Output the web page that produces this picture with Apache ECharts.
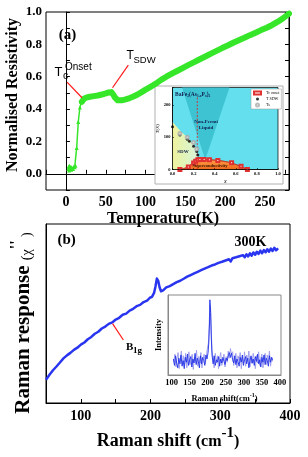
<!DOCTYPE html>
<html><head><meta charset="utf-8">
<script src="https://cdn.jsdelivr.net/npm/echarts/dist/echarts.min.js"></script>
<style>html,body{margin:0;padding:0;background:#fff}#c{width:308px;height:457px}</style>
</head><body><div id="c"></div>
<script>
// ---------- data: panel (a) resistivity ----------
const resLow = [[3,0.03],[3.5,0.045],[4,0.02],[4.5,0.05],[5,0.03],[6,0.042],[6.5,0.025],[7,0.04],[8,0.035],[9,0.03],[10,0.045],[11,0.04],[12,0.05],[13.5,0.16],[15.5,0.32],[17.5,0.41],[19.5,0.445],[21,0.46],[23,0.468]];
const resHigh = [[20,0.445],[23,0.466],[26,0.472],[30,0.476],[35,0.48],[40,0.484],[45,0.49],[50,0.497],[53,0.502],[55,0.505],[57,0.505],[58.5,0.498],[60,0.485],[61.5,0.472],[63,0.461],[65,0.454],[67.5,0.452],[70,0.454],[75,0.46],[80,0.468],[84,0.476],[90,0.49],[95,0.505],[100,0.52],[105,0.534],[110,0.549],[115,0.565],[120,0.582],[126,0.6],[133,0.619],[140,0.637],[147,0.655],[154,0.673],[161,0.69],[168,0.708],[175,0.725],[182,0.743],[189,0.76],[196,0.777],[203,0.793],[210,0.81],[217,0.826],[224,0.841],[231,0.857],[238,0.872],[245,0.888],[252,0.903],[259,0.92],[266,0.94],[273,0.963],[280,0.99]];
const tempLabels = [0,50,100,150,200,250];
const resLabels = [0,0.2,0.4,0.6,0.8,1.0];
const arrowSDW = [[78.3,0.672],[58.5,0.532]];
const arrowTc = [[1.4,0.567],[20.2,0.47]];

// ---------- data: panel (a) inset phase diagram ----------
const phaseXLabels = [0,0.2,0.4,0.6,0.8,1.0];
const phaseYLabels = [0,100,200];
const vRegion = [[0.09,255],[0.54,255],[0.31,30]];
const sdwRegion = [[0,0],[0,148],[0.08,118],[0.15,97],[0.2,80],[0.23,60],[0.245,35],[0.24,0]];
const domeRegion = [[0.08,0],[0.12,4],[0.16,12],[0.2,22],[0.23,28],[0.27,31],[0.33,31],[0.4,29.5],[0.47,27],[0.53,23],[0.58,18],[0.63,12],[0.67,6],[0.71,0]];
const tcOnset = [[0.07,0],[0.15,8],[0.2,20],[0.22,26],[0.24,30],[0.26,31],[0.3,31],[0.35,30],[0.43,28],[0.56,21],[0.65,10],[0.71,0]];
const tSDW = [[0,133],[0.07,107],[0.14,94],[0.16,88],[0.2,72],[0.23,56],[0.24,45]];
const tS = [[0.07,112],[0.14,100],[0.2,84],[0.23,64]];
const dashLine = [[0.235,0],[0.235,228]];

// ---------- data: panel (b) Raman ----------
const ramanMain = [[50,13.0],[55,15.8],[60,18.3],[65,20.4],[70,22.6],[75,24.9],[80,26.6],[85,28.0],[90,29.7],[95,30.9],[100,32.6],[105,33.8],[110,35.6],[115,36.9],[120,38.7],[125,39.8],[130,41.6],[135,42.7],[140,44.2],[145,45.0],[150,46.6],[155,47.6],[160,49.3],[165,49.9],[170,51.6],[175,52.6],[180,54.1],[185,54.8],[190,56.4],[195,57.2],[199,58.8],[202,59.3],[205,61.5],[207,65.0],[209,69.5],[211,68.2],[213,64.5],[215,62.4],[218,62.9],[220,63.2],[222.5,64.6],[225,63.8],[227.5,65.3],[230,64.9],[232.5,66.4],[235,65.6],[237.5,67.5],[240,66.8],[242.5,68.3],[245,67.6],[247.5,69.4],[250,68.9],[252.5,70.6],[255,69.8],[257.5,71.5],[260,70.7],[262.5,72.4],[265,71.6],[267.5,73.3],[270,72.6],[272.5,74.2],[275,73.4],[277.5,75.1],[280,74.2],[282.5,75.9],[285,74.9],[287.5,76.8],[290,75.8],[292.5,77.4],[295,76.5],[297.5,78.3],[300,77.2],[302.5,78.9],[305,77.8],[307.5,79.6],[310,78.5],[312.5,80.3],[315,79.1],[317.5,80.9],[320,79.8],[322.5,81.4],[325,80.3],[327.5,82.0],[330,80.9],[332.5,82.6],[335,81.4],[337.5,83.1],[340,81.9],[342.5,83.6],[345,82.3],[347.5,84.1],[350,82.8],[352.5,84.5],[355,83.3],[357.5,85.1],[360,83.7],[362.5,85.4],[365,84.2],[367.5,85.9],[370,84.5],[372.5,86.3],[375,84.9],[377.5,86.7],[380,85.3],[383,86.4]];
const ramanLabels = [100,200,300,400];
const arrowB1g = [[161,35.2],[145.5,44.3]];
const insetLabels = [100,150,200,250,300,350,400];
const insetDark = [[105,20],[108,12],[111,24],[114,15],[117,9],[120,21],[123,14],[126,25],[129,11],[132,18],[135,8],[138,22],[141,16],[144,26],[147,12],[150,19],[153,23],[156,10],[159,20],[162,15],[165,27],[168,13],[171,21],[174,17],[177,9],[180,24],[183,14],[186,22],[189,18],[192,12],[195,25],[198,20],[201,28],[203,40],[205,65],[206,94],[208,78],[210,45],[212,25],[215,14],[218,24],[221,12],[224,19],[227,16],[230,23],[233,11],[236,20],[239,15],[242,22],[245,17],[248,13],[251,21],[254,18],[257,24],[260,28],[263,22],[266,27],[269,19],[272,15],[275,24],[278,13],[281,20],[284,17],[287,11],[290,22],[293,16],[296,25],[299,12],[302,19],[305,23],[308,14],[311,21],[314,9],[317,18],[320,24],[323,15],[326,20],[329,12],[332,23],[335,17],[338,26],[341,14],[344,19],[347,10],[350,22],[353,16],[356,25],[359,13],[362,21],[365,18],[368,11],[371,24],[374,16],[377,22],[380,19]];
const insetLight = [[106,16],[109,26],[112,10],[115,21],[118,28],[121,8],[124,19],[127,30],[130,14],[133,24],[136,12],[139,27],[142,9],[145,20],[148,29],[151,13],[154,18],[157,26],[160,7],[163,22],[166,16],[169,31],[172,11],[175,23],[178,15],[181,28],[184,9],[187,20],[190,26],[193,14],[196,22],[199,33],[202,40],[204,62],[206,88],[208,84],[210,55],[212,30],[215,20],[218,9],[221,27],[224,15],[227,24],[230,8],[233,21],[236,28],[239,12],[242,19],[245,26],[248,10],[251,23],[254,16],[257,30],[260,21],[263,33],[266,25],[269,29],[272,12],[275,20],[278,27],[281,9],[284,24],[287,18],[290,28],[293,8],[296,21],[299,15],[302,29],[305,11],[308,25],[311,18],[314,30],[317,10],[320,22],[323,14],[326,27],[329,19],[332,8],[335,24],[338,15],[341,29],[344,12],[347,21],[350,26],[353,9],[356,20],[359,27],[362,13],[365,25],[368,16],[371,30],[374,11],[377,22],[380,17]];

// ---------- styling ----------
const SERIF = '"Liberation Serif","Times New Roman",serif';
const SANS = '"Liberation Sans",Arial,sans-serif';
const near = (arr, v) => arr.some(a => Math.abs(a - v) < 1e-6);

function poly(pts, fill, stroke, z) {
  return {
    type: 'custom', xAxisIndex: 1, yAxisIndex: 2, z: z, silent: true,
    data: pts, encode: {x: 0, y: 1},
    renderItem: function (params, api) {
      if (params.dataIndex !== 0) return null;
      const points = pts.map(p => api.coord(p));
      return {type: 'polygon', shape: {points: points},
        style: {fill: fill, stroke: stroke || null, lineWidth: 0.7}};
    }
  };
}

const chart = echarts.init(document.getElementById('c'));
const axisBlack = {lineStyle: {color: '#000', width: 1}};
const option = {
  animation: false,
  backgroundColor: '#fff',
  grid: [
    {left: 46, top: 12, width: 243, height: 178, show: true, borderColor: '#000', borderWidth: 1},
    {left: 172.5, top: 87.5, width: 105.5, height: 82, show: true, backgroundColor: '#63dfee', borderColor: '#000', borderWidth: 0.7, z: 3},
    {left: 46, top: 224, width: 244, height: 179, show: true, borderColor: '#000', borderWidth: 1},
    {left: 168, top: 295, width: 113, height: 80, show: true, borderColor: '#888', borderWidth: 1}
  ],
  xAxis: [
    {gridIndex: 0, type: 'value', min: -25, max: 280, interval: 25, axisLine: axisBlack,
      axisTick: {inside: true, length: 4, lineStyle: {color: '#000'}}, splitLine: {show: false},
      axisLabel: {margin: 5, fontSize: 14, fontWeight: 'bold', fontFamily: SERIF, color: '#000',
        formatter: v => near(tempLabels, v) ? String(v) : ''}},
    {gridIndex: 1, type: 'value', min: 0, max: 1, interval: 0.2, z: 10,
      axisLine: {lineStyle: {color: '#000', width: 0.7}},
      axisTick: {inside: true, length: 1.5, lineStyle: {color: '#000', width: 0.6}}, splitLine: {show: false},
      axisLabel: {margin: 2, fontSize: 4.5, fontWeight: 'bold', fontFamily: SERIF, color: '#000',
        formatter: v => near(phaseXLabels, v) ? v.toFixed(1) : ''},
      name: 'x', nameLocation: 'middle', nameGap: 9,
      nameTextStyle: {fontSize: 6, fontStyle: 'italic', fontFamily: SERIF, color: '#000'}},
    {gridIndex: 2, type: 'value', min: 50, max: 400, interval: 50, axisLine: axisBlack,
      axisTick: {inside: true, length: 4, lineStyle: {color: '#000'}}, splitLine: {show: false},
      axisLabel: {margin: 6, fontSize: 14, fontWeight: 'bold', fontFamily: SERIF, color: '#000',
        formatter: v => near(ramanLabels, v) ? String(v) : ''}},
    {gridIndex: 3, type: 'value', min: 90, max: 403, interval: 10,
      axisLine: {lineStyle: {color: '#888', width: 1}}, axisTick: {show: false}, splitLine: {show: false},
      axisLabel: {margin: 3, fontSize: 8.5, fontWeight: 'bold', fontFamily: SERIF, color: '#000',
        formatter: v => near(insetLabels, v) ? String(v) : ''},
      name: '{a|Raman shift(cm}{s|-1}{a|)}', nameLocation: 'middle', nameGap: 17,
      nameTextStyle: {rich: {
        a: {fontSize: 8.5, fontWeight: 'bold', fontFamily: SERIF, color: '#000', verticalAlign: 'bottom', lineHeight: 11},
        s: {fontSize: 6, fontWeight: 'bold', fontFamily: SERIF, color: '#000', verticalAlign: 'top', lineHeight: 7}}}}
  ],
  yAxis: [
    {gridIndex: 0, type: 'value', min: -0.1, max: 1.0, interval: 0.1, axisLine: axisBlack,
      axisTick: {inside: true, length: 4, lineStyle: {color: '#000'}}, splitLine: {show: false},
      axisLabel: {margin: 4, fontSize: 13, fontWeight: 'bold', fontFamily: SERIF, color: '#000',
        formatter: v => near(resLabels, v) ? v.toFixed(1) : ''}},
    {gridIndex: 0, type: 'value', position: 'right', min: -0.1, max: 1.0, interval: 0.1, axisLine: axisBlack,
      axisTick: {inside: true, length: 4, lineStyle: {color: '#000'}}, splitLine: {show: false},
      axisLabel: {show: false}},
    {gridIndex: 1, type: 'value', min: 0, max: 255, interval: 100, z: 10,
      axisLine: {lineStyle: {color: '#000', width: 0.7}},
      axisTick: {inside: true, length: 1.5, lineStyle: {color: '#000', width: 0.6}}, splitLine: {show: false},
      axisLabel: {margin: 2, fontSize: 4.5, fontWeight: 'bold', fontFamily: SERIF, color: '#000',
        formatter: v => near(phaseYLabels, v) ? String(v) : ''},
      name: 'T(K)', nameLocation: 'middle', nameGap: 10,
      nameTextStyle: {fontSize: 5, fontStyle: 'italic', fontFamily: SERIF, color: '#000'}},
    {gridIndex: 2, type: 'value', min: 0, max: 100, axisLine: axisBlack, axisTick: {show: false},
      splitLine: {show: false}, axisLabel: {show: false}},
    {gridIndex: 3, type: 'value', min: 0, max: 100, axisLine: {lineStyle: {color: '#888'}}, axisTick: {show: false},
      splitLine: {show: false}, axisLabel: {show: false},
      name: 'Intensity', nameLocation: 'middle', nameGap: 5,
      nameTextStyle: {fontSize: 8.5, fontWeight: 'bold', fontFamily: SERIF, color: '#000'}}
  ],
  legend: {
    data: [{name: 'Tc onset', icon: 'emptyRect'}, {name: 'T SDW', icon: 'circle'}, {name: 'Ts', icon: 'emptyCircle'}],
    left: 251, top: 89, orient: 'vertical', itemWidth: 7, itemHeight: 3, itemGap: 1.5,
    padding: [1.5, 2, 1.5, 2], selectedMode: false, z: 20,
    backgroundColor: '#fff', borderColor: '#999', borderWidth: 0.5,
    textStyle: {fontSize: 4, fontFamily: SERIF, color: '#000'}
  },
  series: [
    {type: 'line', name: 'resLow', xAxisIndex: 0, yAxisIndex: 0, data: resLow,
      symbol: 'triangle', symbolSize: 4, itemStyle: {color: '#35e629'},
      lineStyle: {color: '#35e629', width: 1.5}, z: 3},
    {type: 'line', name: 'resHigh', xAxisIndex: 0, yAxisIndex: 0, data: resHigh,
      symbol: 'none', lineStyle: {color: '#35e629', width: 6, cap: 'round', join: 'round'}, z: 3,
      markLine: {silent: true, symbol: ['none', 'arrow'], symbolSize: [0, 7], label: {show: false},
        lineStyle: {color: '#ff1a1a', width: 1.2, type: 'solid'}, itemStyle: {color: '#ff1a1a'},
        data: [[{coord: arrowSDW[0]}, {coord: arrowSDW[1]}], [{coord: arrowTc[0]}, {coord: arrowTc[1]}]]}},
    poly(vRegion, '#3ec3d3', null, 4),
    poly(sdwRegion, new echarts.graphic.LinearGradient(0, 0, 1, 0, [
      {offset: 0, color: '#eef29c'}, {offset: 1, color: '#d6f5dc'}]), null, 4),
    poly(domeRegion, new echarts.graphic.LinearGradient(0, 0, 0, 1, [
      {offset: 0, color: '#ffa24a'}, {offset: 1, color: '#f0661a'}]), '#7a3000', 5),
    {type: 'line', name: 'dash', xAxisIndex: 1, yAxisIndex: 2, data: dashLine, symbol: 'none', z: 6,
      lineStyle: {color: '#e02020', width: 0.8, type: [2, 1.5]}},
    {type: 'line', name: 'Tc onset', xAxisIndex: 1, yAxisIndex: 2, data: tcOnset, z: 7,
      symbol: 'emptyRect', symbolSize: 3, itemStyle: {color: '#e03030', borderWidth: 0.7},
      lineStyle: {color: '#e03030', width: 0.7}},
    {type: 'scatter', name: 'T SDW', xAxisIndex: 1, yAxisIndex: 2, data: tSDW, z: 7,
      symbol: 'circle', symbolSize: 3, itemStyle: {color: '#000'}},
    {type: 'scatter', name: 'Ts', xAxisIndex: 1, yAxisIndex: 2, data: tS, z: 7,
      symbol: 'emptyCircle', symbolSize: 3, itemStyle: {color: '#aaa', borderWidth: 0.6}},
    {type: 'line', name: 'raman', xAxisIndex: 2, yAxisIndex: 3, data: ramanMain, symbol: 'none', z: 3,
      lineStyle: {color: '#2a35f0', width: 2.5, join: 'round'},
      markLine: {silent: true, symbol: ['none', 'arrow'], symbolSize: [0, 7], label: {show: false},
        lineStyle: {color: '#ff1a1a', width: 1.2, type: 'solid'}, itemStyle: {color: '#ff1a1a'},
        data: [[{coord: arrowB1g[0]}, {coord: arrowB1g[1]}]]}},
    {type: 'line', name: 'insetLight', xAxisIndex: 3, yAxisIndex: 4, data: insetLight, symbol: 'none', z: 3,
      lineStyle: {color: '#a0a0ee', width: 1}},
    {type: 'line', name: 'insetDark', xAxisIndex: 3, yAxisIndex: 4, data: insetDark, symbol: 'none', z: 4,
      lineStyle: {color: '#2030e6', width: 0.9}}
  ],
  graphic: [
    {type: 'rect', z: 1, shape: {x: 155, y: 86, width: 128, height: 98},
      style: {fill: '#fff', stroke: '#b0b0b0', lineWidth: 1}},
    {type: 'text', z: 100, x: 67.5, y: 35.5, style: {text: '(a)', font: 'bold 15px ' + SERIF, fill: '#000', align: 'center', verticalAlign: 'middle'}},
    {type: 'text', z: 100, x: 66.7, y: 240.5, style: {text: '(b)', font: 'bold 15px ' + SERIF, fill: '#000', align: 'center', verticalAlign: 'middle'}},
    {type: 'text', z: 100, x: 250.5, y: 242, style: {text: '300K', font: 'bold 14px ' + SERIF, fill: '#000', align: 'center', verticalAlign: 'middle'}},
    {type: 'text', z: 100, x: 163, y: 218.5, style: {text: 'Temperature(K)', font: 'bold 16px ' + SERIF, fill: '#000', align: 'center', verticalAlign: 'middle'}},
    {type: 'text', z: 100, x: 12.5, y: 95, rotation: Math.PI / 2, style: {text: 'Normalised Resistivity', font: 'bold 16px ' + SERIF, fill: '#000', align: 'center', verticalAlign: 'middle'}},
    {type: 'text', z: 100, x: 168, y: 438, style: {text: '{a|Raman shift }{b|(cm}{c|-1}{b|)}', align: 'center', verticalAlign: 'middle',
      rich: {a: {font: 'bold 18px ' + SERIF, fill: '#000', verticalAlign: 'bottom', lineHeight: 24},
             b: {font: 'bold 16px ' + SERIF, fill: '#000', verticalAlign: 'bottom', lineHeight: 24},
             c: {font: 'bold 15px ' + SERIF, fill: '#000', verticalAlign: 'top', lineHeight: 15}}}},
    {type: 'text', z: 100, x: 21.5, y: 323, rotation: Math.PI / 2, style: {text: '{a|Raman response }{b|(χ}{c|\'\'}{b| )}', align: 'center', verticalAlign: 'middle',
      rich: {a: {font: 'bold 21px ' + SERIF, fill: '#000', verticalAlign: 'bottom', lineHeight: 26},
             b: {font: '14px ' + SERIF, fill: '#000', verticalAlign: 'bottom', lineHeight: 26},
             c: {font: 'bold 16px ' + SERIF, fill: '#000', verticalAlign: 'top', lineHeight: 14}}}},
    {type: 'text', z: 100, x: 126.5, y: 56, style: {text: 'T', font: '12px ' + SANS, fill: '#000', align: 'left', verticalAlign: 'middle'}},
    {type: 'text', z: 100, x: 133.5, y: 60, style: {text: 'SDW', font: '9.5px ' + SANS, fill: '#000', align: 'left', verticalAlign: 'middle'}},
    {type: 'text', z: 100, x: 54.5, y: 72, style: {text: 'T', font: '13px ' + SANS, fill: '#000', align: 'left', verticalAlign: 'middle'}},
    {type: 'text', z: 100, x: 63, y: 76.5, style: {text: 'c', font: '10.5px ' + SANS, fill: '#000', align: 'left', verticalAlign: 'middle'}},
    {type: 'text', z: 100, x: 65, y: 67, style: {text: 'Onset', font: '10px ' + SANS, fill: '#000', align: 'left', verticalAlign: 'middle'}},
    {type: 'text', z: 100, x: 126, y: 347, style: {text: 'B', font: 'bold 11px ' + SERIF, fill: '#000', align: 'left', verticalAlign: 'middle'}},
    {type: 'text', z: 100, x: 133, y: 350.5, style: {text: '1g', font: 'bold 9px ' + SERIF, fill: '#000', align: 'left', verticalAlign: 'middle'}},
    {type: 'text', z: 100, x: 175, y: 95, style: {text: '{a|BaFe}{s|2}{a|(As}{s|1-x}{a|P}{s|x}{a|)}{s|2}', align: 'left', verticalAlign: 'middle',
      rich: {a: {font: 'bold 5.5px ' + SERIF, fill: '#102050', verticalAlign: 'top', lineHeight: 7},
             s: {font: 'bold 3.5px ' + SERIF, fill: '#102050', verticalAlign: 'bottom', lineHeight: 4}}}},
    {type: 'text', z: 100, x: 206, y: 122, style: {text: 'Non-Fermi', font: 'bold 5px ' + SERIF, fill: '#102050', align: 'center', verticalAlign: 'middle'}},
    {type: 'text', z: 100, x: 206, y: 128, style: {text: 'Liquid', font: 'bold 5px ' + SERIF, fill: '#102050', align: 'center', verticalAlign: 'middle'}},
    {type: 'text', z: 100, x: 183, y: 152, style: {text: 'SDW', font: 'bold 5px ' + SERIF, fill: '#102050', align: 'center', verticalAlign: 'middle'}},
    {type: 'text', z: 100, x: 210, y: 165.5, style: {text: 'Superconductivity', font: 'bold 4.5px ' + SERIF, fill: '#3a1800', align: 'center', verticalAlign: 'middle'}}
  ]
};
chart.setOption(option);
</script></body></html>
